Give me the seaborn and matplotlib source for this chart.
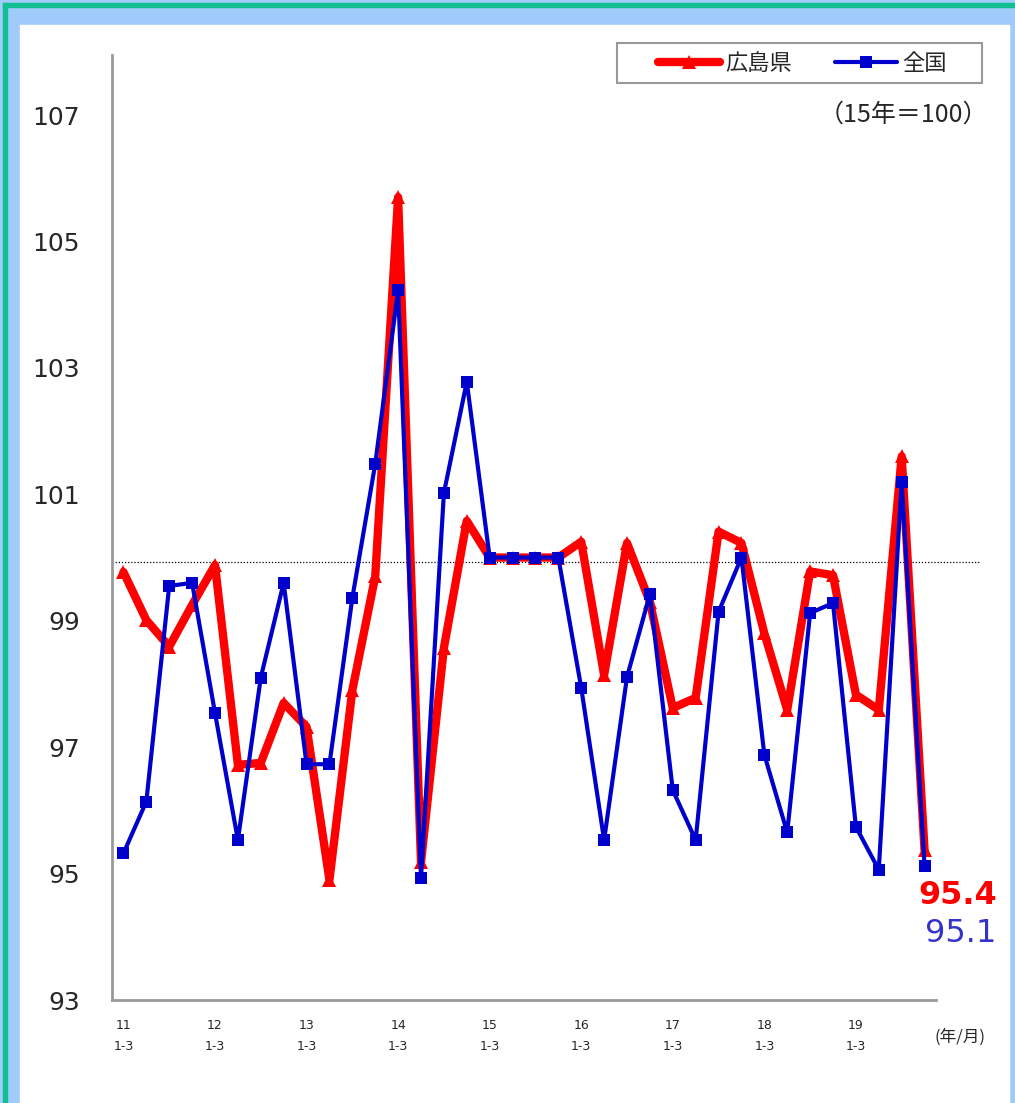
import numpy as np
import pandas as pd
import matplotlib
matplotlib.use("Agg")
import matplotlib.pyplot as plt
from matplotlib.patches import Rectangle
import seaborn as sns

# quarterly index, 2011 Q1 .. 2019 Q4 (15年=100)
years = ["11", "12", "13", "14", "15", "16", "17", "18", "19"]
hiroshima = [99.77, 99.01, 98.59, 99.25, 99.88, 96.72, 96.75, 97.70, 97.32,
             94.90, 97.90, 99.70, 105.70, 95.18, 98.57, 100.58, 100.0, 100.0,
             100.0, 100.0, 100.25, 98.14, 100.23, 99.30, 97.62, 97.78, 100.41,
             100.23, 98.80, 97.59, 99.78, 99.72, 97.83, 97.59, 101.60, 95.37]
zenkoku = [95.32, 96.14, 99.55, 99.60, 97.54, 95.53, 98.10, 99.60, 96.73,
           96.73, 99.36, 101.48, 104.23, 94.93, 101.02, 102.78, 100.0, 100.0,
           100.0, 100.0, 97.94, 95.53, 98.11, 99.42, 96.32, 95.53, 99.14,
           100.0, 96.88, 95.65, 99.12, 99.28, 95.74, 95.06, 101.20, 95.12]
last_hiroshima = 95.4
last_zenkoku = 95.1

df = pd.DataFrame({"q": np.arange(len(hiroshima)),
                   "広島県": hiroshima, "全国": zenkoku})

sns.set_style("white")
plt.rcParams["font.family"] = ["DejaVu Sans", "Noto Sans CJK JP"]
jp = ["Noto Sans CJK JP", "DejaVu Sans"]

W, H = 1015, 1103
fig = plt.figure(figsize=(W / 100, H / 100), dpi=100)
fig.patch.set_facecolor("white")

# frame / background
bg = fig.add_axes([0, 0, 1, 1], zorder=-5)
bg.set_xlim(0, W)
bg.set_ylim(H, 0)
bg.axis("off")
light = "#a0ccfc"
bg.add_patch(Rectangle((0, 0), W, H, color=light))
grad = np.abs(np.linspace(-1, 1, 400)) ** 1.6
rgb0 = np.array(matplotlib.colors.to_rgb(light))
img = (1 - grad)[:, None] * np.ones(3) + grad[:, None] * rgb0
bg.imshow(img[None, :, :], extent=(7, W, 25, 7), aspect="auto")
bg.add_patch(Rectangle((20, 25), 989, H, color="white"))
bg.add_patch(Rectangle((3, 3), W, 4, color="#10c090"))
bg.add_patch(Rectangle((3, 3), 4, H, color="#10c090"))
# legend frame
bg.add_patch(Rectangle((617, 43), 365, 40, facecolor="white",
                       edgecolor="#999999", lw=1.5))

# main axes
x0, x1, y0, y1 = 112, 936, 55, 1000
ax = fig.add_axes([x0 / W, 1 - y1 / H, (x1 - x0) / W, (y1 - y0) / H])
ax.set_facecolor("none")

sns.lineplot(data=df, x="q", y="広島県", ax=ax, color="#ff0000", lw=6,
             marker="^", markersize=10, markeredgewidth=0, label="広島県")
sns.lineplot(data=df, x="q", y="全国", ax=ax, color="#0000cc", lw=3,
             marker="s", markersize=8, markeredgewidth=0, label="全国")

ax.axhline(99.93, xmin=0, xmax=(980 - x0) / (x1 - x0), color="black",
           lw=0.9, ls=(0, (1, 1.5)), clip_on=False, zorder=1)

ax.set_xlim(-0.5, len(hiroshima) - 0.5)
ax.set_ylim(93, 107.95)
ax.set_xlabel("")
ax.set_ylabel("")

for s in ["top", "right"]:
    ax.spines[s].set_visible(False)
for s in ["left", "bottom"]:
    ax.spines[s].set_color("#999999")
    ax.spines[s].set_linewidth(2)

ax.set_yticks(np.arange(93, 108, 2))
ax.tick_params(axis="y", direction="in", length=6, width=1.5, color="#999999",
               labelsize=18, pad=23)

ax.set_xticks(np.arange(0, len(hiroshima), 4))
ax.set_xticklabels([f"{y}\n1-3" for y in years], fontsize=9, linespacing=1.8)
ax.tick_params(axis="x", length=0, pad=14)
ax.set_xticks(np.arange(0.5, len(hiroshima) - 0.5, 1), minor=True)
ax.tick_params(axis="x", which="minor", direction="in", length=4, width=1.2,
               color="#999999")

fig.text(960 / W, 1 - 1037 / H, "(年/月)", fontsize=12, family=jp,
         ha="center", va="center")
fig.text(988 / W, 1 - 115 / H, "（15年＝100）", fontsize=18, family=jp,
         ha="right", va="center")
fig.text(958 / W, 1 - 896 / H, f"{last_hiroshima:.1f}", fontsize=23,
         fontweight="bold", color="#ff0000", ha="center", va="center")
fig.text(961 / W, 1 - 934 / H, f"{last_zenkoku:.1f}", fontsize=23,
         color="#3333cc", ha="center", va="center")

handles, labels = ax.get_legend_handles_labels()
leg = ax.legend(handles, labels, loc="center left", ncol=2,
                bbox_to_anchor=(658 / W, 1 - 63 / H),
                bbox_transform=fig.transFigure, frameon=False,
                handlelength=2.8, handletextpad=0.25, columnspacing=1.9,
                borderpad=0, borderaxespad=0,
                prop={"family": jp, "size": 16})

fig.savefig("out.png", dpi=100)
